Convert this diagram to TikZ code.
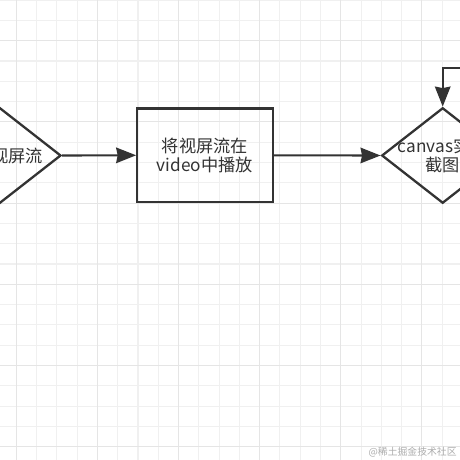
\documentclass[tikz,border=0pt]{standalone}
\usepackage{fontspec}
\setmainfont{Noto Sans CJK SC}
\usetikzlibrary{shapes.geometric,arrows.meta}

\newcommand\flowfont{\fontsize{9.8pt}{11pt}\selectfont}

\tikzset{
  gridminor/.style={draw=black!6, line width=0.022cm},
  gridmajor/.style={draw=black!10, line width=0.022cm},
  box/.style={draw=black!80, line width=0.046cm, minimum width=2.708cm, minimum height=1.868cm, align=center, inner sep=0pt, font=\flowfont, text=black!80},
  decision/.style={diamond, draw=black!80, line width=0.046cm, minimum width=2.44cm, minimum height=1.91cm, inner sep=0pt},
  lbl/.style={align=center, font=\flowfont, text=black!80, inner sep=0pt},
  flow/.style={-{Stealth[length=0.4cm, width=0.31cm, inset=0.03cm]}, draw=black!80, line width=0.042cm}
}

\begin{document}
\begin{tikzpicture}[x=0.02cm, y=-0.02cm]
  \useasboundingbox (0,0) rectangle (460,460);
  \clip (0,0) rectangle (460,460);
  \fill[white] (0,0) rectangle (460,460);

  % grid
  \foreach \k in {0,...,23} {
    \draw[gridminor] ({16.3+20.28*(\k-1)},0) -- ++(0,460);
    \draw[gridminor] (0,{0.1+20.3*\k}) -- ++(460,0);
  }
  \foreach \k in {0,...,5} {
    \draw[gridmajor] ({16.3+81.12*\k},0) -- ++(0,460);
    \draw[gridmajor] (0,{40.7+81.2*\k}) -- ++(460,0);
  }

  \node[decision, label={[lbl]center:获取视屏流}] (fetch) at (0,155.5) {};
  \node[box] (play) at (205,155.3) {将视屏流在\\video中播放};
  \node[decision, label={[lbl]center:canvas实时\\截图}] (shot) at (442.7,155.5) {};
  \coordinate (loop) at (540,68.3);

  \draw[flow] (fetch.east) -- (play.west);
  \draw[flow] (play.east) -- (shot.west);
  \draw[flow] (shot.east) -| (loop) -| (shot.north);

  \node[anchor=east, font=\fontsize{5.6pt}{6pt}\selectfont, text=black!32, inner sep=0pt] (mark) at (457,451.7) {@稀土掘金技术社区};
\end{tikzpicture}
\end{document}
